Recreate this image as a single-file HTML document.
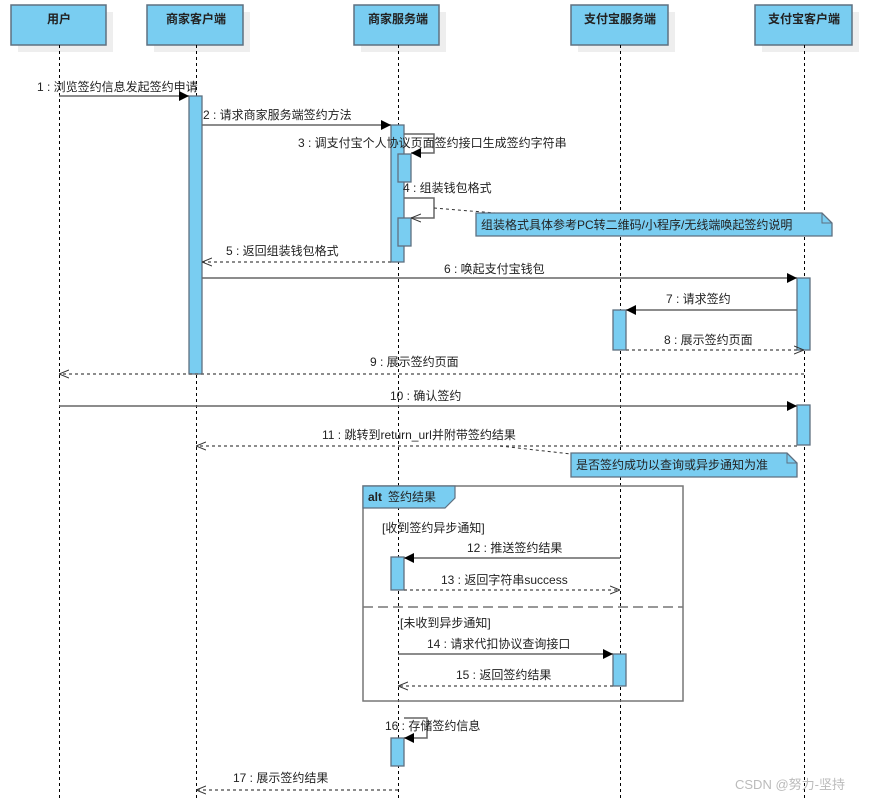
<!DOCTYPE html>
<html><head><meta charset="utf-8"><style>
html,body{margin:0;padding:0;background:#fff;}
svg text{font-family:"Liberation Sans","Noto Sans CJK SC",sans-serif;font-size:12px;fill:#222;}
</style></head><body>
<svg width="875" height="799" viewBox="0 0 875 799" xmlns="http://www.w3.org/2000/svg">
<defs>
<marker id="f" viewBox="0 0 10 10" refX="10" refY="5" markerWidth="10" markerHeight="10" markerUnits="userSpaceOnUse" orient="auto"><path d="M0,0 L10,5 L0,10 z" fill="#000"/></marker>
<marker id="o" viewBox="0 0 10 10" refX="10" refY="5" markerWidth="10" markerHeight="10" markerUnits="userSpaceOnUse" orient="auto"><path d="M0,1 L10,5 L0,9" fill="none" stroke="#333" stroke-width="1"/></marker>
</defs>
<!-- headers -->
<g fill="#eeeeee">
<rect x="18" y="12" width="95" height="40"/><rect x="154" y="12" width="96" height="40"/><rect x="361" y="12" width="85" height="40"/><rect x="578" y="12" width="97" height="40"/><rect x="762" y="12" width="97" height="40"/>
</g>
<g fill="#79cdf1" stroke="#5f7080" stroke-width="1.5">
<rect x="11" y="5" width="95" height="40"/><rect x="147" y="5" width="96" height="40"/><rect x="354" y="5" width="85" height="40"/><rect x="571" y="5" width="97" height="40"/><rect x="755" y="5" width="97" height="40"/>
</g>
<g font-weight="bold" text-anchor="middle">
<text x="59" y="23" style="font-weight:bold">用户</text><text x="196" y="23" style="font-weight:bold">商家客户端</text><text x="398" y="23" style="font-weight:bold">商家服务端</text><text x="620" y="23" style="font-weight:bold">支付宝服务端</text><text x="804" y="23" style="font-weight:bold">支付宝客户端</text>
</g>
<!-- lifelines -->
<g stroke="#000" stroke-width="1" stroke-dasharray="3,3">
<line x1="59.5" y1="45" x2="59.5" y2="799"/><line x1="196.5" y1="45" x2="196.5" y2="799"/><line x1="398.5" y1="45" x2="398.5" y2="799"/><line x1="620.5" y1="45" x2="620.5" y2="799"/><line x1="804.5" y1="45" x2="804.5" y2="799"/>
</g>
<!-- alt frame -->
<rect x="363" y="486" width="320" height="215" fill="none" stroke="#777" stroke-width="1.5"/>
<path d="M363,486 L455,486 L455,498 L445,508 L363,508 z" fill="#79cdf1" stroke="#5f7080" stroke-width="1.2"/>
<text x="368" y="501" style="font-weight:bold">alt</text><text x="388" y="501">签约结果</text>
<line x1="363" y1="607" x2="683" y2="607" stroke="#777" stroke-width="1.5" stroke-dasharray="10,5"/>
<text x="382" y="532" fill="#333">[收到签约异步通知]</text>
<text x="400" y="627" fill="#333">[未收到异步通知]</text>
<!-- activations -->
<g fill="#79cdf1" stroke="#5f7080" stroke-width="1.3">
<rect x="189" y="96" width="13" height="278"/>
<rect x="391" y="125" width="13" height="137"/>
<rect x="398" y="154" width="13" height="28"/>
<rect x="398" y="218" width="13" height="28"/>
<rect x="797" y="278" width="13" height="72"/>
<rect x="613" y="310" width="13" height="40"/>
<rect x="797" y="405" width="13" height="40"/>
<rect x="391" y="557" width="13" height="33"/>
<rect x="613" y="654" width="13" height="32"/>
<rect x="391" y="738" width="13" height="28"/>
</g>
<!-- messages -->
<g stroke="#666" stroke-width="1.5" fill="none">
<line x1="59" y1="96" x2="189" y2="96" marker-end="url(#f)"/>
<line x1="202" y1="125" x2="391" y2="125" marker-end="url(#f)"/>
<path d="M404,134 L434,134 L434,153 L411,153" marker-end="url(#f)"/>
<path d="M404,198 L434,198 L434,218 L411,218" marker-end="url(#o)"/>
<line x1="202" y1="278" x2="797" y2="278" marker-end="url(#f)"/>
<line x1="797" y1="310" x2="626" y2="310" marker-end="url(#f)"/>
<line x1="59" y1="406" x2="797" y2="406" marker-end="url(#f)"/>
<line x1="620" y1="558" x2="404" y2="558" marker-end="url(#f)"/>
<line x1="398" y1="654" x2="613" y2="654" marker-end="url(#f)"/>
<path d="M404,718 L427,718 L427,738 L404,738" marker-end="url(#f)"/>
</g>
<g stroke="#666" stroke-width="1.5" fill="none" stroke-dasharray="3,3">
<line x1="391" y1="262" x2="202" y2="262" marker-end="url(#o)"/>
<line x1="626" y1="350" x2="804" y2="350" marker-end="url(#o)"/>
<line x1="804" y1="374" x2="59" y2="374" marker-end="url(#o)"/>
<line x1="797" y1="446" x2="196" y2="446" marker-end="url(#o)"/>
<line x1="404" y1="590" x2="620" y2="590" marker-end="url(#o)"/>
<line x1="613" y1="686" x2="398" y2="686" marker-end="url(#o)"/>
<line x1="398" y1="790" x2="196" y2="790" marker-end="url(#o)"/>
</g>
<!-- note connectors -->
<g stroke="#333" stroke-width="1" stroke-dasharray="3,3" fill="none">
<line x1="434" y1="208" x2="495" y2="213"/>
<line x1="500" y1="446" x2="571" y2="454"/>
</g>
<!-- notes -->
<path d="M476,213 L822,213 L832,223 L832,236 L476,236 z" fill="#79cdf1" stroke="#5f7080" stroke-width="1.3"/>
<path d="M822,213 L822,223 L832,223" fill="none" stroke="#5f7080" stroke-width="1"/>
<text x="481" y="229">组装格式具体参考PC转二维码/小程序/无线端唤起签约说明</text>
<path d="M571,453 L787,453 L797,463 L797,477 L571,477 z" fill="#79cdf1" stroke="#5f7080" stroke-width="1.3"/>
<path d="M787,453 L787,463 L797,463" fill="none" stroke="#5f7080" stroke-width="1"/>
<text x="576" y="469">是否签约成功以查询或异步通知为准</text>
<!-- labels -->
<g fill="#333">
<text x="37" y="91">1 : 浏览签约信息发起签约申请</text>
<text x="203" y="119">2 : 请求商家服务端签约方法</text>
<text x="298" y="147">3 : 调支付宝个人协议页面签约接口生成签约字符串</text>
<text x="403" y="192">4 : 组装钱包格式</text>
<text x="226" y="255">5 : 返回组装钱包格式</text>
<text x="444" y="273">6 : 唤起支付宝钱包</text>
<text x="666" y="303">7 : 请求签约</text>
<text x="664" y="344">8 : 展示签约页面</text>
<text x="370" y="366">9 : 展示签约页面</text>
<text x="390" y="400">10 : 确认签约</text>
<text x="322" y="439">11 : 跳转到return_url并附带签约结果</text>
<text x="467" y="552">12 : 推送签约结果</text>
<text x="441" y="584">13 : 返回字符串success</text>
<text x="427" y="648">14 : 请求代扣协议查询接口</text>
<text x="456" y="679">15 : 返回签约结果</text>
<text x="385" y="730">16 : 存储签约信息</text>
<text x="233" y="782">17 : 展示签约结果</text>
</g>
<text x="735" y="789" style="font-size:13px;fill:#bbb">CSDN @努力-坚持</text>
</svg>
</body></html>
